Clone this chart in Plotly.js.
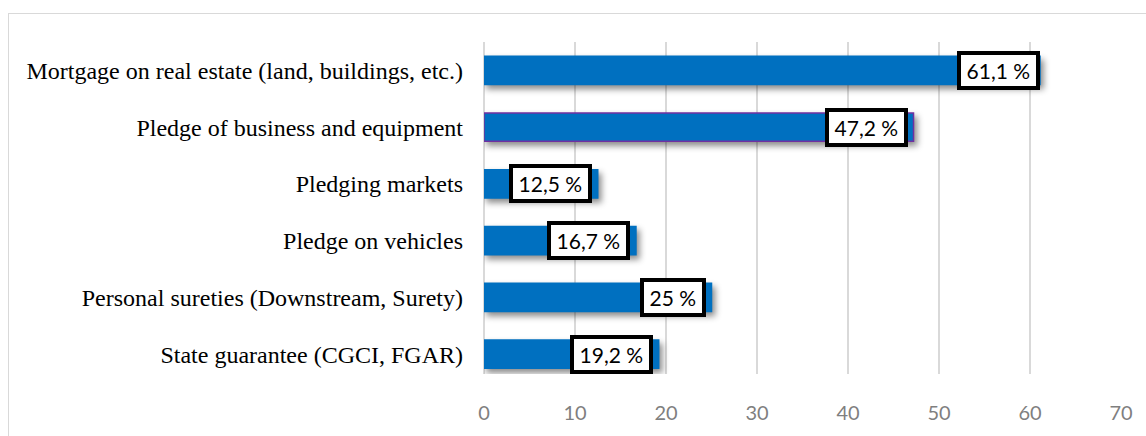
<!DOCTYPE html>
<html>
<head>
<meta charset="utf-8">
<script src="https://cdn.plot.ly/plotly-3.0.1.min.js"></script>
<style>
  html, body { margin: 0; padding: 0; background: #fff; }
  #chart { position: absolute; left: 0; top: 0; width: 1146px; height: 436px; }
  #frame { position: absolute; left: 8px; top: 13px; width: 1200px; height: 500px;
           border-top: 1.5px solid #d9d9d9; border-left: 1.5px solid #d9d9d9; pointer-events: none; }
  .bars .point path { filter: drop-shadow(3px 4px 3px rgba(0,0,0,0.45)); }
</style>
</head>
<body>
<div id="chart"></div>
<div id="frame"></div>
<script>
const categories = [
  "Mortgage on real estate (land, buildings, etc.)",
  "Pledge of business and equipment",
  "Pledging markets",
  "Pledge on vehicles",
  "Personal sureties (Downstream, Surety)",
  "State guarantee (CGCI, FGAR)"
];
const values = [61.1, 47.2, 12.5, 16.7, 25, 19.2];
const labels = ["61,1 %", "47,2 %", "12,5 %", "16,7 %", "25 %", "19,2 %"];
const outlineColors = ["#0070c0", "#7030a0", "#0070c0", "#0070c0", "#0070c0", "#0070c0"];
const xTicks = [0, 10, 20, 30, 40, 50, 60, 70];

const trace = {
  type: "bar",
  orientation: "h",
  x: values,
  y: categories,
  marker: { color: "#0070c0", line: { color: outlineColors, width: 1.5 } },
  width: 0.5,
  hoverinfo: "none"
};

const annotations = categories.map((c, i) => ({
  x: values[i], y: c, xref: "x", yref: "y",
  text: "\u2009" + labels[i] + "\u2009", showarrow: false,
  xanchor: "right", yanchor: "middle", xshift: i === 0 ? 0 : -6,
  font: { family: "Lato, 'Open Sans', sans-serif", size: 21, color: "#000" },
  bgcolor: "#ffffff", bordercolor: "#000000", borderwidth: 4, borderpad: 3
}));

const layout = {
  width: 1146, height: 436,
  margin: { l: 484, r: 25, t: 42, b: 62 },
  paper_bgcolor: "rgba(0,0,0,0)",
  plot_bgcolor: "#ffffff",
  showlegend: false,
  xaxis: {
    range: [0, 70],
    tickvals: xTicks,
    ticktext: xTicks.map(String),
    showgrid: true, gridcolor: "#d9d9d9", gridwidth: 1.5,
    zeroline: true, zerolinecolor: "#d9d9d9", zerolinewidth: 1.5,
    showline: false, ticks: "",
    ticklabelstandoff: 25,
    tickfont: { family: "Lato, 'Open Sans', sans-serif", size: 20, color: "#7f7f7f" },
    fixedrange: true
  },
  yaxis: {
    type: "category",
    categoryorder: "array", categoryarray: categories,
    range: [5.35, -0.5],
    showgrid: false, zeroline: false, showline: false, ticks: "",
    ticklabelstandoff: 20,
    tickfont: { family: "'Liberation Serif', 'Times New Roman', serif", size: 24, color: "#000" },
    fixedrange: true
  },
  annotations: annotations
};

Plotly.newPlot("chart", [trace], layout, { displayModeBar: false, staticPlot: true });
</script>
</body>
</html>
